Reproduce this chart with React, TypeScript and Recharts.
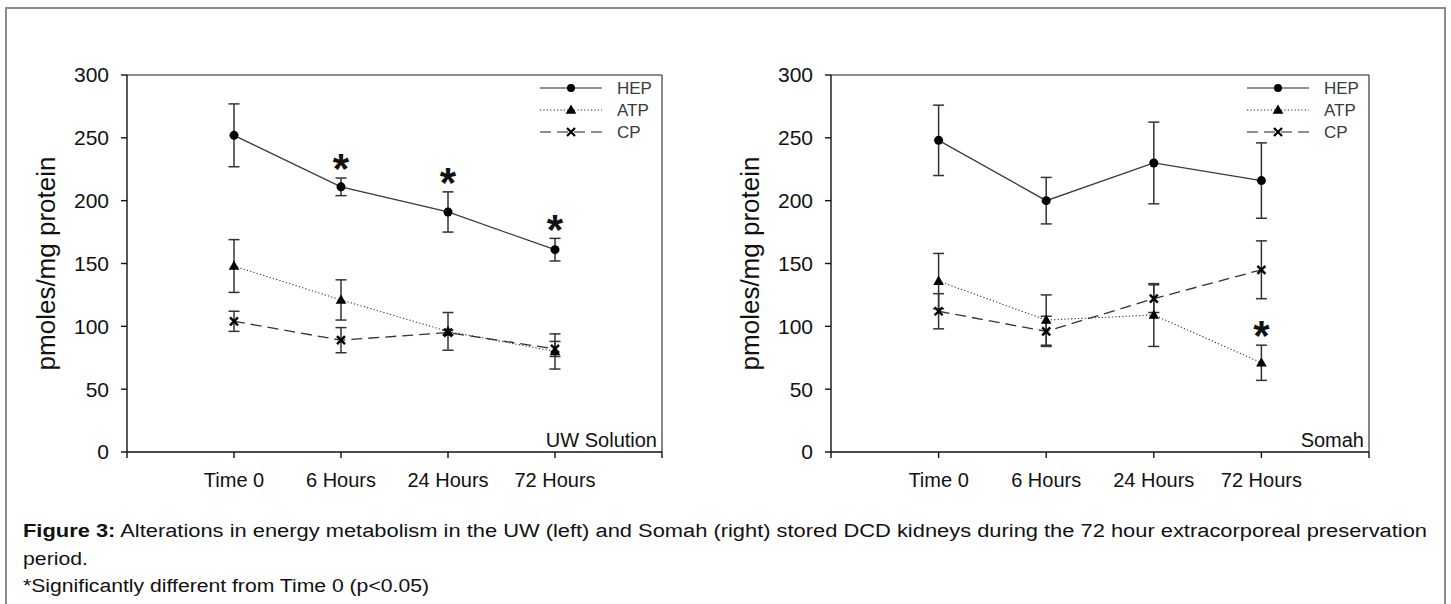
import React from "react";
import {
  ComposedChart,
  Line,
  XAxis,
  YAxis,
  ErrorBar,
  Legend,
  ReferenceLine,
} from "recharts";

const FONT = "'Liberation Sans', Arial, sans-serif";

const categories = ["Time 0", "6 Hours", "24 Hours", "72 Hours"];
const xTicks = [0, 1, 2, 3, 4, 5];
const yTicks = [0, 50, 100, 150, 200, 250, 300];

// UW Solution
const uwHep = [252, 211, 191, 161];
const uwHepErr = [25, 7, 16, 9];
const uwAtp = [148, 121, 96, 80];
const uwAtpErr = [21, 16, 15, 14];
const uwCp = [104, 89, 95, 82];
const uwCpErr = [8, 10, 2, 6];
const uwHepSig = [false, true, true, true];
const uwAtpSig = [false, false, false, false];

// Somah
const smHep = [248, 200, 230, 216];
const smHepErr = [28, 18.5, 32.5, 30];
const smAtp = [136, 105, 109, 71];
const smAtpErr = [22, 20, 25, 14];
const smCp = [112, 96, 122, 145];
const smCpErr = [14, 12, 11, 23];
const smHepSig = [false, false, false, false];
const smAtpSig = [false, false, false, true];

const STAR_GAP = 11;

function buildRows(
  hep: number[], hepErr: number[],
  atp: number[], atpErr: number[],
  cp: number[], cpErr: number[],
  hepSig: boolean[], atpSig: boolean[]
) {
  return categories.map((c, i) => ({
    x: i + 1,
    label: c,
    hep: hep[i],
    hepErr: hepErr[i],
    atp: atp[i],
    atpErr: atpErr[i],
    cp: cp[i],
    cpErr: cpErr[i],
    hepStar: hepSig[i] ? hep[i] + hepErr[i] + STAR_GAP : null,
    atpStar: atpSig[i] ? atp[i] + atpErr[i] + STAR_GAP : null,
  }));
}

const uwRows = buildRows(uwHep, uwHepErr, uwAtp, uwAtpErr, uwCp, uwCpErr, uwHepSig, uwAtpSig);
const smRows = buildRows(smHep, smHepErr, smAtp, smAtpErr, smCp, smCpErr, smHepSig, smAtpSig);

const circleDot = (p: any) =>
  p.cx == null || p.cy == null ? (
    <g key={p.index} />
  ) : (
    <circle key={p.index} cx={p.cx} cy={p.cy} r={4.5} fill="#000" />
  );

const triPath = (cx: number, cy: number) =>
  `M${cx},${cy - 5.5} L${cx + 5.3},${cy + 3.8} L${cx - 5.3},${cy + 3.8} Z`;

const triangleDot = (p: any) =>
  p.cx == null || p.cy == null ? (
    <g key={p.index} />
  ) : (
    <path key={p.index} d={triPath(p.cx, p.cy)} fill="#000" />
  );

const crossPath = (cx: number, cy: number) =>
  `M${cx - 4},${cy - 4} L${cx + 4},${cy + 4} M${cx + 4},${cy - 4} L${cx - 4},${cy + 4}`;

const crossDot = (p: any) =>
  p.cx == null || p.cy == null ? (
    <g key={p.index} />
  ) : (
    <path key={p.index} d={crossPath(p.cx, p.cy)} stroke="#000" strokeWidth={2.4} fill="none" />
  );

const starDot = (p: any) =>
  p.cx == null || p.cy == null || p.value == null ? (
    <g key={p.index} />
  ) : (
    <text
      key={p.index}
      x={p.cx}
      y={p.cy + 19}
      textAnchor="middle"
      fontSize={42}
      fontWeight="bold"
      fontFamily={FONT}
      fill="#111"
    >
      *
    </text>
  );

function LegendBox() {
  const rows = [
    { name: "HEP", dash: undefined as string | undefined, marker: "circle" },
    { name: "ATP", dash: "1.2 2.2", marker: "tri" },
    { name: "CP", dash: "11 6", marker: "cross" },
  ];
  return (
    <svg width={130} height={70} style={{ display: "block" }}>
      {rows.map((r, i) => {
        const y = 12 + i * 22;
        return (
          <g key={r.name}>
            <line x1={5} x2={67} y1={y} y2={y} stroke="#222" strokeWidth={1.2} strokeDasharray={r.dash} />
            {r.marker === "circle" && <circle cx={36} cy={y} r={4} fill="#000" />}
            {r.marker === "tri" && <path d={triPath(36, y)} fill="#000" />}
            {r.marker === "cross" && (
              <path d={crossPath(36, y)} stroke="#000" strokeWidth={2.2} fill="none" />
            )}
            <text x={82} y={y} dominantBaseline="central" fontSize={17} fontFamily={FONT} fill="#3a3a3a">
              {r.name}
            </text>
          </g>
        );
      })}
    </svg>
  );
}

interface PanelProps {
  rows: ReturnType<typeof buildRows>;
  width: number;
  marginLeft: number;
  marginRight: number;
  legendLeft: number;
  name: string;
}

function Panel({ rows, width, marginLeft, marginRight, legendLeft, name }: PanelProps) {
  return (
    <ComposedChart
      width={width}
      height={520}
      data={rows}
      margin={{ top: 75, right: marginRight, bottom: 28, left: marginLeft }}
    >
      <XAxis
        dataKey="x"
        type="number"
        domain={[0, 5]}
        ticks={xTicks}
        interval={0}
        tickFormatter={(v: number) => categories[v - 1] ?? ""}
        height={40}
        tickSize={6}
        tickMargin={15}
        axisLine={{ stroke: "#111", strokeWidth: 1.4 }}
        tickLine={{ stroke: "#111", strokeWidth: 1.4 }}
        tick={{ fontSize: 20, fill: "#111", fontFamily: FONT }}
      />
      <YAxis
        type="number"
        domain={[0, 300]}
        ticks={yTicks}
        interval={0}
        width={60}
        tickSize={6}
        tickMargin={12}
        axisLine={{ stroke: "#111", strokeWidth: 1.4 }}
        tickLine={{ stroke: "#111", strokeWidth: 1.4 }}
        tick={{ fontSize: 21, fill: "#111", fontFamily: FONT }}
        label={{
          content: (props: any) => {
            const vb = props.viewBox || {};
            const cx = vb.x + vb.width - 81;
            const cy = vb.y + vb.height / 2;
            return (
              <text
                x={cx}
                y={cy}
                transform={`rotate(-90, ${cx}, ${cy})`}
                textAnchor="middle"
                dominantBaseline="central"
                fontSize={26}
                fontFamily={FONT}
                fill="#111"
              >
                pmoles/mg protein
              </text>
            );
          },
        }}
      />
      <ReferenceLine y={300} stroke="#6a6a6a" strokeWidth={1.4} />
      <ReferenceLine
        x={5}
        stroke="#555"
        strokeWidth={1.4}
        label={{
          content: (props: any) => {
            const vb = props.viewBox || {};
            return (
              <text
                x={vb.x - 5}
                y={vb.y + vb.height - 12}
                textAnchor="end"
                dominantBaseline="central"
                fontSize={20}
                fontFamily={FONT}
                fill="#111"
              >
                {name}
              </text>
            );
          },
        }}
      />
      <Legend
        layout="vertical"
        align="center"
        verticalAlign="middle"
        content={() => <LegendBox />}
        wrapperStyle={{ left: legendLeft, top: 76, width: 130, height: 70 }}
      />
      <Line
        dataKey="hep"
        stroke="#3a3a3a"
        strokeWidth={1.3}
        dot={circleDot}
        activeDot={false}
        isAnimationActive={false}
      >
        <ErrorBar dataKey="hepErr" direction="y" width={5.5} stroke="#333" strokeWidth={1.5} />
      </Line>
      <Line
        dataKey="atp"
        stroke="#333"
        strokeWidth={1.1}
        strokeDasharray="1.2 2.2"
        dot={triangleDot}
        activeDot={false}
        isAnimationActive={false}
      >
        <ErrorBar dataKey="atpErr" direction="y" width={5.5} stroke="#333" strokeWidth={1.5} />
      </Line>
      <Line
        dataKey="cp"
        stroke="#333"
        strokeWidth={1.3}
        strokeDasharray="11 6"
        dot={crossDot}
        activeDot={false}
        isAnimationActive={false}
      >
        <ErrorBar dataKey="cpErr" direction="y" width={5.5} stroke="#333" strokeWidth={1.5} />
      </Line>
      <Line
        dataKey="hepStar"
        stroke="none"
        dot={starDot}
        activeDot={false}
        legendType="none"
        isAnimationActive={false}
      />
      <Line
        dataKey="atpStar"
        stroke="none"
        dot={starDot}
        activeDot={false}
        legendType="none"
        isAnimationActive={false}
      />
    </ComposedChart>
  );
}

export default function App() {
  return (
    <div
      style={{
        position: "absolute",
        left: 0,
        top: 0,
        width: 1451,
        height: 604,
        overflow: "hidden",
        background: "#fff",
        fontFamily: FONT,
      }}
    >
      <div
        style={{
          position: "absolute",
          left: 5,
          top: 7,
          width: 1437,
          height: 620,
          border: "2px solid #8c8c8c",
        }}
      />
      <div style={{ position: "absolute", left: 0, top: 0 }}>
        <Panel rows={uwRows} width={720} marginLeft={67} marginRight={58} legendLeft={535} name="UW Solution" />
      </div>
      <div style={{ position: "absolute", left: 720, top: 0 }}>
        <Panel rows={smRows} width={731} marginLeft={51} marginRight={82} legendLeft={522} name="Somah" />
      </div>
      <svg
        width={1451}
        height={104}
        style={{ position: "absolute", left: 0, top: 500 }}
        fontFamily={FONT}
        fontSize={18}
        fill="#111"
      >
        <text x={23} y={37} textLength={1404} lengthAdjust="spacingAndGlyphs">
          <tspan fontWeight="bold">Figure 3:</tspan> Alterations in energy metabolism in the UW (left) and Somah
          (right) stored DCD kidneys during the 72 hour extracorporeal preservation
        </text>
        <text x={23} y={65} textLength={65} lengthAdjust="spacingAndGlyphs">
          period.
        </text>
        <text x={23} y={92} textLength={406} lengthAdjust="spacingAndGlyphs">
          *Significantly different from Time 0 (p&lt;0.05)
        </text>
      </svg>
    </div>
  );
}
